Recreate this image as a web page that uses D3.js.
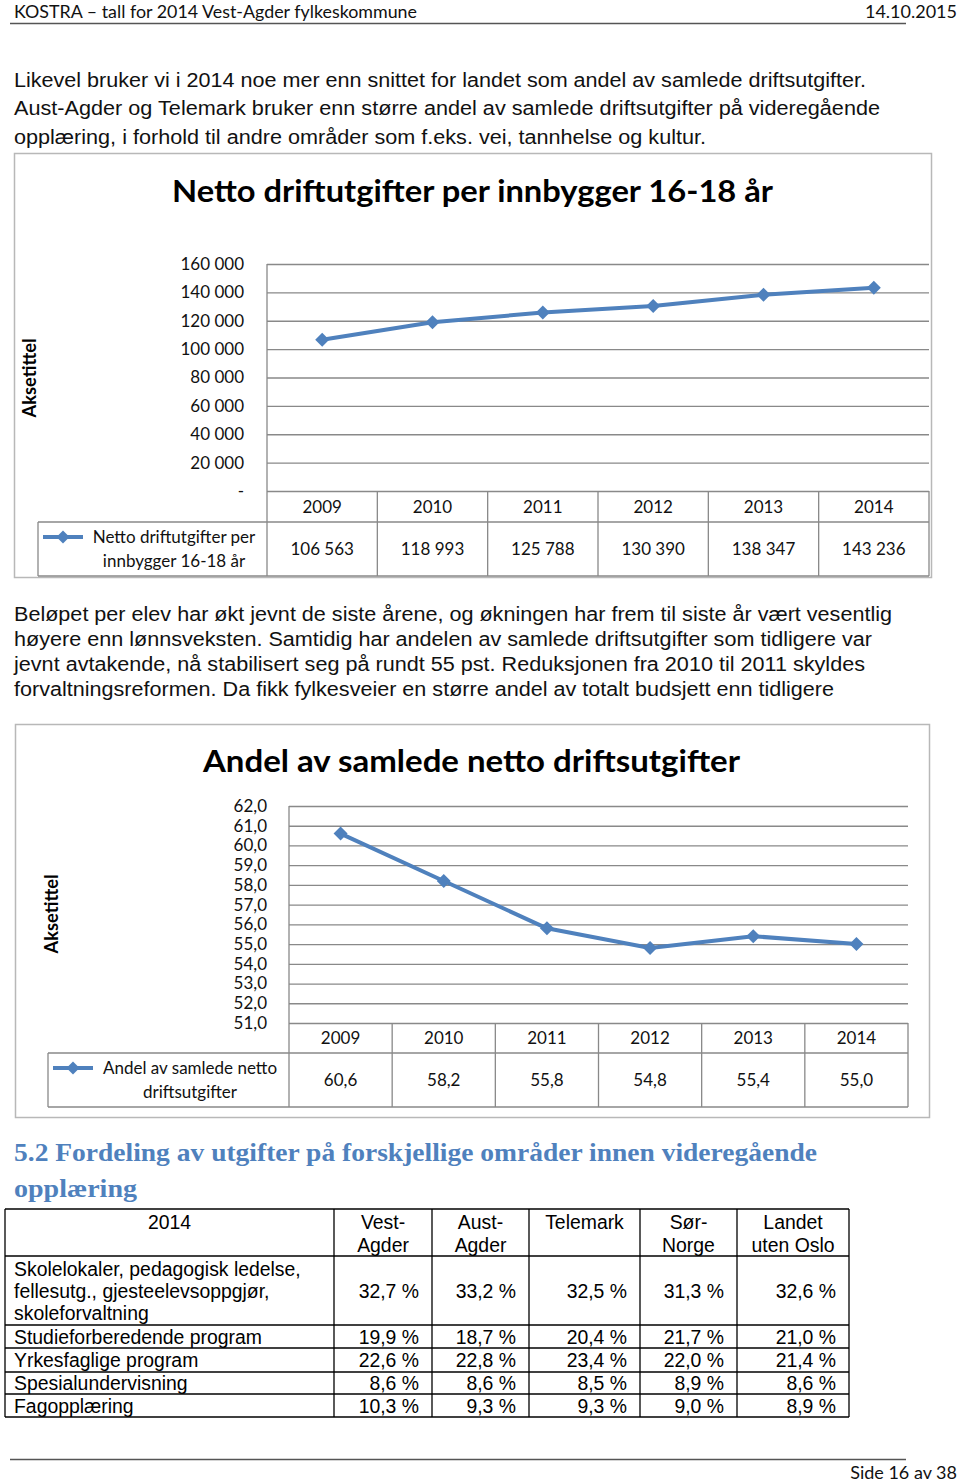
<!DOCTYPE html>
<html><head><meta charset="utf-8">
<script src="https://cdn.jsdelivr.net/npm/d3@7"></script>
<style>
html,body{margin:0;padding:0;background:#fff;}
svg{display:block;}
</style></head><body>
<script>
// ---------------- data ----------------
const years = ["2009","2010","2011","2012","2013","2014"];
const nettoPerInnbygger = [106563,118993,125788,130390,138347,143236];
const andelSamlede = [60.6,58.2,55.8,54.8,55.4,55.0];
const yTicks1 = [0,20000,40000,60000,80000,100000,120000,140000,160000];
const yTicks2 = [51,52,53,54,55,56,57,58,59,60,61,62];
const title1 = "Netto driftutgifter per innbygger 16-18 år";
const title2 = "Andel av samlede netto driftsutgifter";
const seriesName1 = ["Netto driftutgifter per","innbygger 16-18 år"];
const seriesName2 = ["Andel av samlede netto","driftsutgifter"];
const axisTitle = "Aksetittel";
const tableYear = "2014";
const tableRegions = [["Vest-","Agder"],["Aust-","Agder"],["Telemark"],["Sør-","Norge"],["Landet","uten Oslo"]];
const tableCategories = [["Skolelokaler, pedagogisk ledelse,","fellesutg., gjesteelevsoppgjør,","skoleforvaltning"],["Studieforberedende program"],["Yrkesfaglige program"],["Spesialundervisning"],["Fagopplæring"]];
const tableValues = [[32.7,33.2,32.5,31.3,32.6],[19.9,18.7,20.4,21.7,21.0],[22.6,22.8,23.4,22.0,21.4],[8.6,8.6,8.5,8.9,8.6],[10.3,9.3,9.3,9.0,8.9]];
const headerLeft = "KOSTRA – tall for 2014 Vest-Agder fylkeskommune";
const headerRight = "14.10.2015";
const footerText = "Side 16 av 38";
const para1 = ["Likevel bruker vi i 2014 noe mer enn snittet for landet som andel av samlede driftsutgifter.",
  "Aust-Agder og Telemark bruker enn større andel av samlede driftsutgifter på videregående",
  "opplæring, i forhold til andre områder som f.eks. vei, tannhelse og kultur."];
const para2 = ["Beløpet per elev har økt jevnt de siste årene, og økningen har frem til siste år vært vesentlig",
  "høyere enn lønnsveksten. Samtidig har andelen av samlede driftsutgifter som tidligere var",
  "jevnt avtakende, nå stabilisert seg på rundt 55 pst. Reduksjonen fra 2010 til 2011 skyldes",
  "forvaltningsreformen. Da fikk fylkesveier en større andel av totalt budsjett enn tidligere"];
const heading = ["5.2 Fordeling av utgifter på forskjellige områder innen videregående","opplæring"];

// ---------------- setup ----------------
const W = 960, H = 1483;
const loc = d3.formatLocale({decimal:",", thousands:" ", grouping:[3], currency:["",""]});
const fmtThousands = v => v === 0 ? "-" : loc.format(",.0f")(v);
const fmtDec1 = loc.format(".1f");
const CAL = "Lato, 'Open Sans', sans-serif";
const ARIAL = "'Liberation Sans', Arial, sans-serif";
const SERIF = "'Liberation Serif', 'DejaVu Serif', serif";
const BLUE = "#4F81BD";

const svg = d3.select("body").append("svg").attr("width", W).attr("height", H)
  .style("background", "#fff");

// header / footer
svg.append("text").attr("x", 14).attr("y", 18).attr("font-family", CAL).attr("font-size", 18)
  .attr("textLength", 403).attr("lengthAdjust", "spacingAndGlyphs").attr("fill", "#111").text(headerLeft);
svg.append("text").attr("x", 957).attr("y", 18).attr("text-anchor", "end").attr("font-family", CAL)
  .attr("font-size", 18).attr("fill", "#111").text(headerRight);
svg.append("line").attr("x1", 10).attr("x2", 906).attr("y1", 23.5).attr("y2", 23.5)
  .attr("stroke", "#555").attr("stroke-width", 1.5);
svg.append("line").attr("x1", 10).attr("x2", 906).attr("y1", 1459.5).attr("y2", 1459.5)
  .attr("stroke", "#555").attr("stroke-width", 1.5);
svg.append("text").attr("x", 957).attr("y", 1479).attr("text-anchor", "end").attr("font-family", CAL)
  .attr("font-size", 18).attr("fill", "#111").text(footerText);

// paragraphs
const p1Len = [852, 866, 692];
const p1Base = [87, 115, 144];
para1.forEach((t, i) => svg.append("text").attr("x", 14).attr("y", p1Base[i]).attr("font-family", ARIAL)
  .attr("font-size", 20).attr("fill", "#111").attr("textLength", p1Len[i]).attr("lengthAdjust", "spacingAndGlyphs").text(t));
const p2Len = [878, 858, 851, 820];
const p2Base = [621, 646, 671, 696];
para2.forEach((t, i) => svg.append("text").attr("x", 14).attr("y", p2Base[i]).attr("font-family", ARIAL)
  .attr("font-size", 20).attr("fill", "#111").attr("textLength", p2Len[i]).attr("lengthAdjust", "spacingAndGlyphs").text(t));

// ---------------- line chart helper ----------------
function lineChart(c) {
  const g = svg.append("g");
  g.append("rect").attr("x", c.box[0] + 0.5).attr("y", c.box[1] + 0.5)
    .attr("width", c.box[2] - c.box[0]).attr("height", c.box[3] - c.box[1])
    .attr("fill", "#fff").attr("stroke", "#b8b8b8").attr("stroke-width", 1.5);
  g.append("text").attr("x", c.titleX).attr("y", c.titleY).attr("font-family", CAL).attr("font-weight", 700)
    .attr("font-size", 31).attr("fill", "#000").attr("textLength", c.titleLen)
    .attr("lengthAdjust", "spacingAndGlyphs").text(c.title);

  const x = d3.scaleBand().domain(years).range([c.left, c.right]);
  const y = d3.scaleLinear().domain(c.domain).range([c.bottom, c.top]);
  const grid = "#898989";

  // gridlines + tick labels via axis
  const ax = g.append("g").attr("transform", `translate(${c.left},0)`)
    .call(d3.axisLeft(y).tickValues(c.ticks).tickFormat(c.tickFmt)
      .tickSize(-(c.right - c.left)).tickPadding(c.tickPad));
  ax.select(".domain").remove();
  ax.selectAll(".tick line").attr("stroke", grid).attr("stroke-width", 1.3);
  ax.selectAll(".tick text").attr("font-family", CAL).attr("font-size", 17).attr("fill", "#111");

  // left axis line
  g.append("line").attr("x1", c.left).attr("x2", c.left).attr("y1", c.top).attr("y2", c.tableBottom)
    .attr("stroke", grid).attr("stroke-width", 1.3);

  // data table lines
  const tl = (x1, y1, x2, y2) => g.append("line").attr("x1", x1).attr("y1", y1).attr("x2", x2).attr("y2", y2)
    .attr("stroke", grid).attr("stroke-width", 1.3);
  years.forEach(yr => tl(x(yr) + x.bandwidth(), c.bottom, x(yr) + x.bandwidth(), c.tableBottom));
  tl(c.legendLeft, c.headerBottom, c.right, c.headerBottom);
  tl(c.legendLeft, c.tableBottom, c.right, c.tableBottom);
  tl(c.legendLeft, c.headerBottom, c.legendLeft, c.tableBottom);

  // years + values
  g.selectAll(".yr").data(years).join("text").attr("x", d => x(d) + x.bandwidth() / 2)
    .attr("y", (c.bottom + c.headerBottom) / 2 + 6).attr("text-anchor", "middle")
    .attr("font-family", CAL).attr("font-size", 17).attr("fill", "#111").text(d => d);
  g.selectAll(".val").data(c.values).join("text").attr("x", (d, i) => x(years[i]) + x.bandwidth() / 2)
    .attr("y", (c.headerBottom + c.tableBottom) / 2 + 6).attr("text-anchor", "middle")
    .attr("font-family", CAL).attr("font-size", 17).attr("fill", "#111").text(d => c.valFmt(d));

  // legend
  c.legendText.forEach((t, i) => g.append("text").attr("x", c.legendCX).attr("y", c.legendY[i])
    .attr("text-anchor", "middle").attr("font-family", CAL).attr("font-size", 17).attr("fill", "#111").text(t));
  g.append("line").attr("x1", c.legendMark[0]).attr("x2", c.legendMark[1])
    .attr("y1", c.legendY[0] - 6).attr("y2", c.legendY[0] - 6).attr("stroke", BLUE).attr("stroke-width", 4);
  const dia = "M0,-6.5L6.5,0L0,6.5L-6.5,0Z";
  g.append("path").attr("d", dia).attr("fill", BLUE)
    .attr("transform", `translate(${(c.legendMark[0] + c.legendMark[1]) / 2},${c.legendY[0] - 6})`);

  // axis title
  g.append("text").attr("transform", `translate(${c.axisTitle[0]},${c.axisTitle[1]}) rotate(-90)`)
    .attr("text-anchor", "middle").attr("dy", "0.35em").attr("font-family", CAL).attr("font-weight", 700)
    .attr("font-size", 18).attr("fill", "#000").attr("textLength", 79).attr("lengthAdjust", "spacingAndGlyphs")
    .text(axisTitle);

  // series
  const pts = c.values.map((v, i) => [x(years[i]) + x.bandwidth() / 2, y(v)]);
  g.append("path").attr("d", d3.line()(pts)).attr("fill", "none").attr("stroke", BLUE)
    .attr("stroke-width", 4).attr("stroke-linejoin", "round");
  g.selectAll(".mk").data(pts).join("path").attr("d", "M0,-7L7,0L0,7L-7,0Z").attr("fill", BLUE)
    .attr("transform", d => `translate(${d[0]},${d[1]})`);
}

lineChart({
  box: [14, 153, 931, 577], title: title1, titleX: 172, titleY: 202, titleLen: 601,
  left: 267, right: 929, top: 264, bottom: 491, headerBottom: 522, tableBottom: 576, legendLeft: 38,
  domain: [0, 160000], ticks: yTicks1, tickFmt: fmtThousands, tickPad: 23,
  values: nettoPerInnbygger, valFmt: loc.format(",.0f"),
  legendText: seriesName1, legendCX: 174, legendY: [543, 567], legendMark: [43, 83],
  axisTitle: [30, 378]
});
lineChart({
  box: [15, 724, 929, 1117], title: title2, titleX: 203, titleY: 772, titleLen: 537,
  left: 289, right: 908, top: 806, bottom: 1023, headerBottom: 1053, tableBottom: 1107, legendLeft: 48,
  domain: [51, 62], ticks: yTicks2, tickFmt: fmtDec1, tickPad: 22,
  values: andelSamlede, valFmt: fmtDec1,
  legendText: seriesName2, legendCX: 190, legendY: [1074, 1098], legendMark: [53, 93],
  axisTitle: [52, 914]
});

// ---------------- heading ----------------
const headLen = [803, 123];
const headBase = [1161, 1197];
heading.forEach((t, i) => svg.append("text").attr("x", 14).attr("y", headBase[i]).attr("font-family", SERIF)
  .attr("font-weight", 700).attr("font-size", 26).attr("fill", BLUE)
  .attr("textLength", headLen[i]).attr("lengthAdjust", "spacingAndGlyphs").text(t));

// ---------------- table ----------------
const colX = [5, 334, 432, 529, 640, 737, 849];
const rowY = [1209, 1256, 1325, 1348, 1372, 1394, 1417];
const tg = svg.append("g").attr("font-family", ARIAL).attr("font-size", 19.4).attr("fill", "#000");
// grid
rowY.forEach(yv => tg.append("line").attr("x1", colX[0]).attr("x2", colX[6]).attr("y1", yv).attr("y2", yv)
  .attr("stroke", "#000").attr("stroke-width", 1.3));
colX.forEach(xv => tg.append("line").attr("x1", xv).attr("x2", xv).attr("y1", rowY[0]).attr("y2", rowY[6])
  .attr("stroke", "#000").attr("stroke-width", 1.3));
// header
tg.append("text").attr("x", (colX[0] + colX[1]) / 2).attr("y", 1229).attr("text-anchor", "middle").text(tableYear);
tableRegions.forEach((lines, j) => lines.forEach((t, k) =>
  tg.append("text").attr("x", (colX[j + 1] + colX[j + 2]) / 2).attr("y", 1229 + k * 23)
    .attr("text-anchor", "middle").text(t)));
// body
tableCategories.forEach((lines, i) => {
  const top = rowY[i + 1], bot = rowY[i + 2];
  const n = lines.length;
  const mid = (top + bot) / 2;
  lines.forEach((t, k) => tg.append("text").attr("x", 14)
    .attr("y", mid + 7 + (k - (n - 1) / 2) * 22).text(t));
  tableValues[i].forEach((v, j) => tg.append("text").attr("x", colX[j + 2] - 13).attr("y", mid + 7)
    .attr("text-anchor", "end").text(fmtDec1(v) + " %"));
});
</script>
</body></html>
